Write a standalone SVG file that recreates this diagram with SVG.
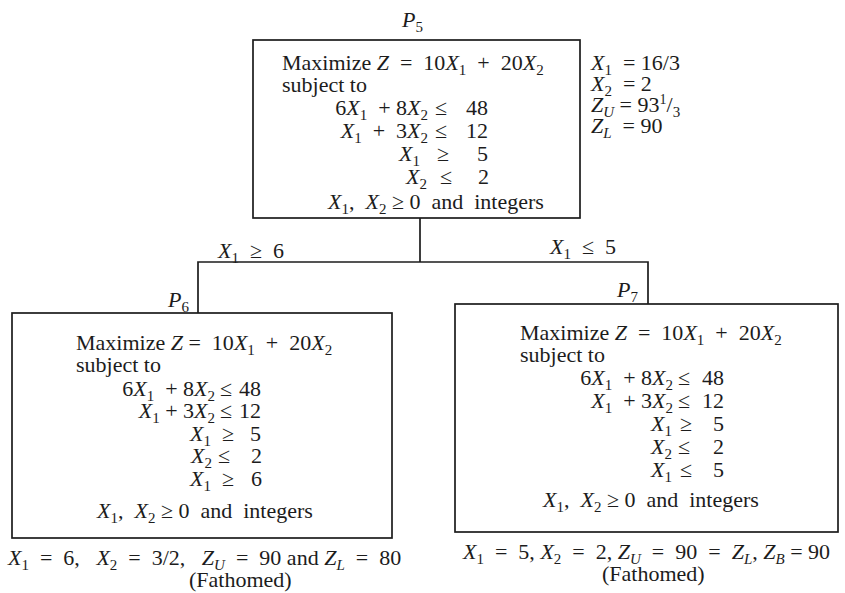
<svg xmlns="http://www.w3.org/2000/svg" width="845" height="593" viewBox="0 0 845 593">
<style>
.t{font-family:"Liberation Serif","Times New Roman",serif;font-size:22px;fill:#1c1c1c;white-space:pre}
.e{text-anchor:end}
.i{font-style:italic}
.s{font-size:15px;baseline-shift:-5px}
.u{font-size:14px;baseline-shift:8px}
.box{fill:none;stroke:#1c1c1c;stroke-width:1.7}
.ln{fill:none;stroke:#1c1c1c;stroke-width:1.7}
</style>
<rect width="845" height="593" fill="#ffffff"/>
<g id="connectors">
<polyline class="ln" points="420,218 420,262"/>
<polyline class="ln" points="198,313 198,262 648,262 648,304"/>
<text class="t" x="218" y="258"><tspan class="i">X</tspan><tspan class="s">1</tspan>  ≥  6</text>
<text class="t" x="550" y="254"><tspan class="i">X</tspan><tspan class="s">1</tspan>  ≤  5</text>
</g>
<g id="P5">
<text class="t" x="402" y="27"><tspan class="i">P</tspan><tspan class="s">5</tspan></text>
<rect class="box" x="253" y="40" width="327" height="178"/>
<text class="t" x="282" y="70">Maximize <tspan class="i">Z</tspan>  =  10<tspan class="i">X</tspan><tspan class="s">1</tspan>  +  20<tspan class="i">X</tspan><tspan class="s">2</tspan></text>
<text class="t" x="282" y="92">subject to</text>
<text class="t e" x="428" y="115">6<tspan class="i">X</tspan><tspan class="s">1</tspan>  + 8<tspan class="i">X</tspan><tspan class="s">2</tspan></text>
<text class="t" x="435" y="115">≤</text><text class="t e" x="488" y="115">48</text>
<text class="t e" x="428" y="138"><tspan class="i">X</tspan><tspan class="s">1</tspan>  +  3<tspan class="i">X</tspan><tspan class="s">2</tspan></text>
<text class="t" x="435" y="138">≤</text><text class="t e" x="488" y="138">12</text>
<text class="t e" x="420" y="161"><tspan class="i">X</tspan><tspan class="s">1</tspan></text>
<text class="t" x="437" y="161">≥</text><text class="t e" x="488" y="161">5</text>
<text class="t e" x="427" y="184"><tspan class="i">X</tspan><tspan class="s">2</tspan></text>
<text class="t" x="440" y="184">≤</text><text class="t e" x="489" y="184">2</text>
<text class="t" x="328" y="209"><tspan class="i">X</tspan><tspan class="s">1</tspan>,  <tspan class="i">X</tspan><tspan class="s">2</tspan> ≥ 0  and  integers</text>
<text class="t" x="591" y="70"><tspan class="i">X</tspan><tspan class="s">1</tspan>  = 16/3</text>
<text class="t" x="591" y="91"><tspan class="i">X</tspan><tspan class="s">2</tspan>  = 2</text>
<text class="t" x="591" y="112"><tspan class="i">Z</tspan><tspan class="s i">U</tspan> = 93<tspan class="u">1</tspan>/<tspan class="s">3</tspan></text>
<text class="t" x="591" y="133"><tspan class="i">Z</tspan><tspan class="s i">L</tspan>  = 90</text>
</g>
<g id="P6">
<text class="t" x="168" y="307"><tspan class="i">P</tspan><tspan class="s">6</tspan></text>
<rect class="box" x="12" y="313" width="380" height="225"/>
<text class="t" x="76" y="350">Maximize <tspan class="i">Z</tspan> =  10<tspan class="i">X</tspan><tspan class="s">1</tspan>  +  20<tspan class="i">X</tspan><tspan class="s">2</tspan></text>
<text class="t" x="76" y="372">subject to</text>
<text class="t e" x="215" y="396">6<tspan class="i">X</tspan><tspan class="s">1</tspan>  + 8<tspan class="i">X</tspan><tspan class="s">2</tspan></text>
<text class="t" x="220" y="396">≤</text><text class="t e" x="261" y="396">48</text>
<text class="t e" x="215" y="418"><tspan class="i">X</tspan><tspan class="s">1</tspan> + 3<tspan class="i">X</tspan><tspan class="s">2</tspan></text>
<text class="t" x="220" y="418">≤</text><text class="t e" x="261" y="418">12</text>
<text class="t e" x="211" y="441"><tspan class="i">X</tspan><tspan class="s">1</tspan></text>
<text class="t" x="222" y="441">≥</text><text class="t e" x="261" y="441">5</text>
<text class="t e" x="212" y="463"><tspan class="i">X</tspan><tspan class="s">2</tspan></text>
<text class="t" x="218" y="463">≤</text><text class="t e" x="262" y="463">2</text>
<text class="t e" x="211" y="486"><tspan class="i">X</tspan><tspan class="s">1</tspan></text>
<text class="t" x="222" y="486">≥</text><text class="t e" x="262" y="486">6</text>
<text class="t" x="97" y="518"><tspan class="i">X</tspan><tspan class="s">1</tspan>,  <tspan class="i">X</tspan><tspan class="s">2</tspan> ≥ 0  and  integers</text>
<text class="t" x="8" y="565"><tspan class="i">X</tspan><tspan class="s">1</tspan>  =  6,   <tspan class="i">X</tspan><tspan class="s">2</tspan>  =  3/2,   <tspan class="i">Z</tspan><tspan class="s i">U</tspan>  =  90 and <tspan class="i">Z</tspan><tspan class="s i">L</tspan>  =  80</text>
<text class="t" x="189" y="587">(Fathomed)</text>
</g>
<g id="P7">
<text class="t" x="617" y="297"><tspan class="i">P</tspan><tspan class="s">7</tspan></text>
<rect class="box" x="455" y="304" width="383" height="228"/>
<text class="t" x="520" y="340">Maximize <tspan class="i">Z</tspan>  =  10<tspan class="i">X</tspan><tspan class="s">1</tspan>  +  20<tspan class="i">X</tspan><tspan class="s">2</tspan></text>
<text class="t" x="520" y="362">subject to</text>
<text class="t e" x="673" y="385">6<tspan class="i">X</tspan><tspan class="s">1</tspan>  + 8<tspan class="i">X</tspan><tspan class="s">2</tspan></text>
<text class="t" x="678" y="385">≤</text><text class="t e" x="724" y="385">48</text>
<text class="t e" x="673" y="408"><tspan class="i">X</tspan><tspan class="s">1</tspan>  + 3<tspan class="i">X</tspan><tspan class="s">2</tspan></text>
<text class="t" x="678" y="408">≤</text><text class="t e" x="724" y="408">12</text>
<text class="t e" x="672" y="431"><tspan class="i">X</tspan><tspan class="s">1</tspan></text>
<text class="t" x="680" y="431">≥</text><text class="t e" x="724" y="431">5</text>
<text class="t e" x="672" y="454"><tspan class="i">X</tspan><tspan class="s">2</tspan></text>
<text class="t" x="678" y="454">≤</text><text class="t e" x="724" y="454">2</text>
<text class="t e" x="672" y="477"><tspan class="i">X</tspan><tspan class="s">1</tspan></text>
<text class="t" x="680" y="477">≤</text><text class="t e" x="724" y="477">5</text>
<text class="t" x="543" y="507"><tspan class="i">X</tspan><tspan class="s">1</tspan>,  <tspan class="i">X</tspan><tspan class="s">2</tspan> ≥ 0  and  integers</text>
<text class="t" x="463" y="559"><tspan class="i">X</tspan><tspan class="s">1</tspan>  =  5, <tspan class="i">X</tspan><tspan class="s">2</tspan>  =  2, <tspan class="i">Z</tspan><tspan class="s i">U</tspan>  =  90  =  <tspan class="i">Z</tspan><tspan class="s i">L</tspan>, <tspan class="i">Z</tspan><tspan class="s i">B</tspan> = 90</text>
<text class="t" x="602" y="581">(Fathomed)</text>
</g>
</svg>
